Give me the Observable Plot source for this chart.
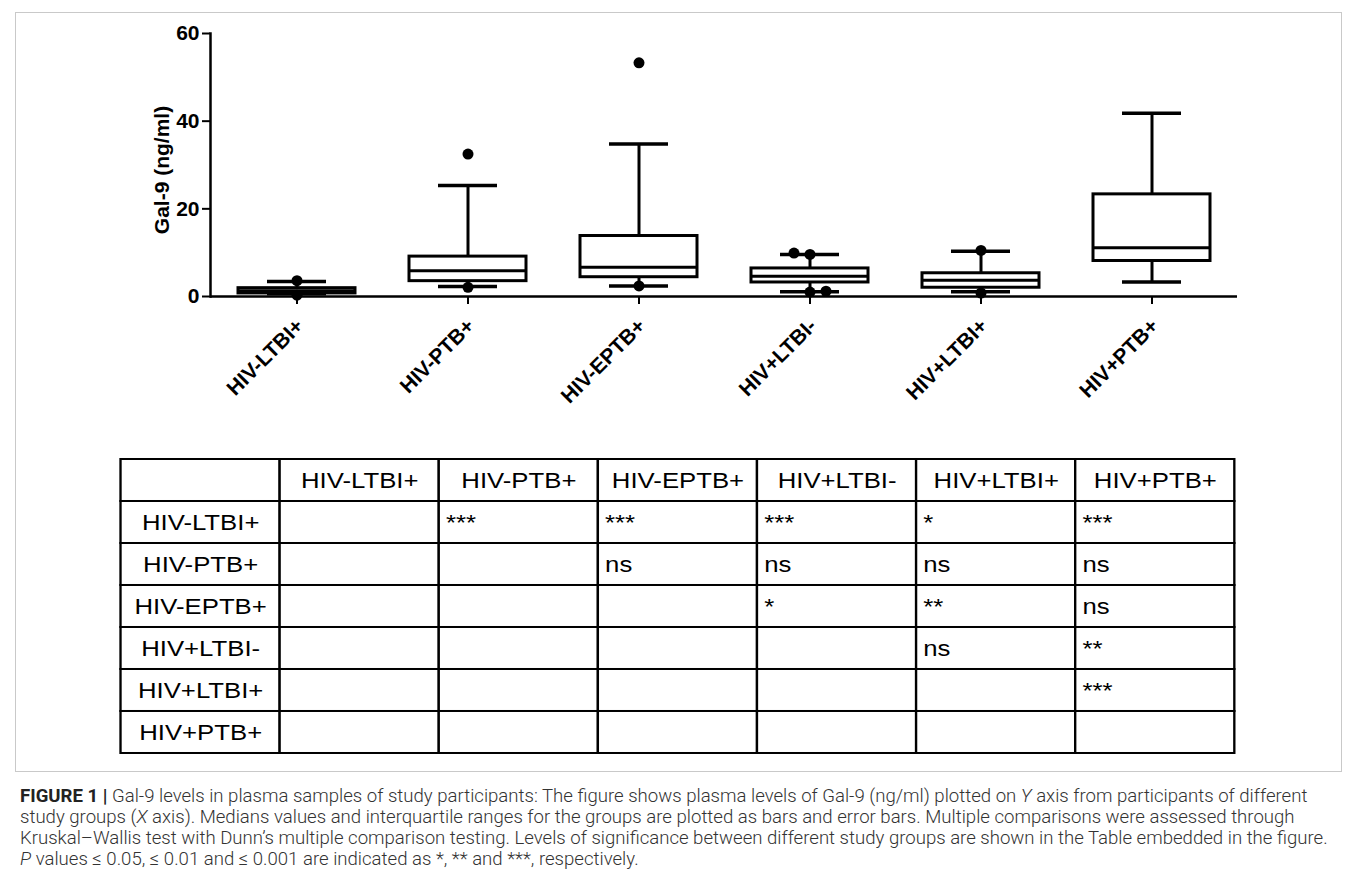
<!DOCTYPE html>
<html><head><meta charset="utf-8">
<script src="https://cdn.jsdelivr.net/npm/d3@7"></script>
<script src="https://cdn.jsdelivr.net/npm/@observablehq/plot@0.6"></script>
<style>
body{margin:0;background:#fff;width:1357px;height:891px;position:relative;overflow:hidden}
#fig{position:absolute;left:15px;top:12px;width:1327px;height:760px;border:1px solid #c9c9c9;box-sizing:border-box}
#chart{position:absolute;left:0;top:0}
#table{position:absolute;left:0;top:440px}
#table svg{transform-origin:0 0}
#caption{position:absolute;left:20px;top:786px;font-family:Roboto,sans-serif;font-weight:300;font-size:16.5px;line-height:21px;color:#333;white-space:nowrap}
#caption b{color:#222;font-weight:700}
</style></head>
<body>
<div id="fig"></div>
<div id="chart"></div>
<div id="table"></div>
<div id="caption">
<div><b>FIGURE 1 |</b> Gal-9 levels in plasma samples of study participants: The figure shows plasma levels of Gal-9 (ng/ml) plotted on <i>Y</i> axis from participants of different</div>
<div>study groups (<i>X</i> axis). Medians values and interquartile ranges for the groups are plotted as bars and error bars. Multiple comparisons were assessed through</div>
<div>Kruskal–Wallis test with Dunn’s multiple comparison testing. Levels of significance between different study groups are shown in the Table embedded in the figure.</div>
<div><i>P</i> values ≤ 0.05, ≤ 0.01 and ≤ 0.001 are indicated as *, ** and ***, respectively.</div>
</div>
<script>
// ---- data ----
const groups = ["HIV-LTBI+", "HIV-PTB+", "HIV-EPTB+", "HIV+LTBI-", "HIV+LTBI+", "HIV+PTB+"];
const whiskerLow  = [0.6, 2.3, 2.4, 1.1, 1.1, 3.3];
const q1          = [0.7, 3.5, 4.4, 3.2, 2.0, 8.1];
const median      = [1.3, 5.9, 6.7, 4.6, 3.7, 11.1];
const q3          = [1.9, 9.1, 13.8, 6.4, 5.3, 23.3];
const whiskerHigh = [3.4, 25.3, 34.8, 9.6, 10.3, 41.8];
const outlierGroups = ["HIV-LTBI+", "HIV-LTBI+", "HIV-PTB+", "HIV-PTB+", "HIV-EPTB+", "HIV-EPTB+",
                       "HIV+LTBI-", "HIV+LTBI-", "HIV+LTBI-", "HIV+LTBI-", "HIV+LTBI+", "HIV+LTBI+"];
const outlierValues = [3.6, 0.3, 32.5, 2.1, 53.3, 2.4, 9.9, 9.6, 1.2, 1.0, 10.5, 0.8];
const yTicks = [0, 20, 40, 60];
const yLabel = "Gal-9 (ng/ml)";
// significance table: rows x columns (both = groups)
const significance = [
  ["", "***", "***", "***", "*", "***"],
  ["", "", "ns", "ns", "ns", "ns"],
  ["", "", "", "*", "**", "ns"],
  ["", "", "", "", "ns", "**"],
  ["", "", "", "", "", "***"],
  ["", "", "", "", "", ""]
];

// ---- chart ----
const boxes = groups.map((g, i) => ({group: g, lo: whiskerLow[i], q1: q1[i], med: median[i], q3: q3[i], hi: whiskerHigh[i]}));
const pts = outlierGroups.map((g, i) => ({group: g, value: outlierValues[i], slot: 0}));
const dotR = 5.5;
const plotH = 263, yMax = 60;
const collide = 2 * dotR * yMax / plotH;
for (const g of groups) {
  const gp = pts.filter(p => p.group === g);
  const b = boxes.find(d => d.group === g);
  for (const a of gp) for (const c of gp)
    if (a !== c && a.value > c.value && a.value - c.value < collide) a.slot = a.value > b.q3 ? -1 : 1;
}
const dotMarks = [-1, 0, 1].map(s => Plot.dot(pts.filter(p => p.slot === s),
  {x: "group", y: "value", r: dotR, fill: "black", dx: s * 16}));

const chart = Plot.plot({
  width: 1357, height: 440,
  marginLeft: 210, marginRight: 120, marginTop: 33, marginBottom: 144,
  style: {fontFamily: "'Liberation Sans', Arial, sans-serif", background: "transparent", color: "black"},
  x: {domain: groups, paddingInner: 0.316, paddingOuter: 0.158, label: null},
  y: {domain: [0, yMax], label: null},
  marks: [
    Plot.ruleX(boxes, {x: "group", y1: "q3", y2: "hi", strokeWidth: 3}),
    Plot.ruleX(boxes, {x: "group", y1: "lo", y2: "q1", strokeWidth: 3}),
    Plot.tickY(boxes, {x: "group", y: "hi", insetLeft: 29, insetRight: 29, strokeWidth: 3.5}),
    Plot.tickY(boxes, {x: "group", y: "lo", insetLeft: 29, insetRight: 29, strokeWidth: 3.5}),
    Plot.barY(boxes, {x: "group", y1: "q1", y2: "q3", fill: "white", stroke: "black", strokeWidth: 3}),
    Plot.tickY(boxes, {x: "group", y: "med", strokeWidth: 3}),
    ...dotMarks,
    Plot.axisY({ticks: yTicks, tickSize: 8, tickPadding: 3, fontSize: 21, fontWeight: "bold", strokeWidth: 2, label: null}),
    // tick marks only
    Plot.axisX({tickSize: 8, tickFormat: () => "", strokeWidth: 2, label: null}),
    // rotated labels only
    Plot.axisX({tickSize: 0, tickRotate: -45, tickPadding: 26, dx: 3, fontSize: 21, fontWeight: "bold", label: null}),
    Plot.ruleY([0], {strokeWidth: 2.5}),
    Plot.frame({anchor: "left", strokeWidth: 2.5}),
    Plot.text([yLabel], {frameAnchor: "left", textAnchor: "middle", rotate: -90, dx: -48, dy: 5, fontSize: 21, fontWeight: "bold", fill: "black"})
  ]
});
document.getElementById("chart").append(chart);

// ---- table ----
const stretch = 1.17;
const tLeft = 118, tRight = 1237, rowH = 42.2, tTop = 18;
const head = "head";
const axisCats = [head, ...groups];
const cells = d3.cross(axisCats, axisCats).map(([c, r]) => ({col: c, row: r}));
const sigData = [];
groups.forEach((r, i) => groups.forEach((c, j) => {
  if (significance[i][j]) sigData.push({row: r, col: c, text: significance[i][j]});
}));
const frameW = (tRight - tLeft) / stretch;
const colW = frameW / axisCats.length;
const table = Plot.plot({
  width: tLeft / stretch + frameW + 10, height: tTop + rowH * axisCats.length + 4,
  marginLeft: tLeft / stretch, marginRight: 10, marginTop: tTop, marginBottom: 4,
  style: {fontFamily: "'Liberation Sans', Arial, sans-serif", background: "transparent", color: "black"},
  x: {domain: axisCats, padding: 0, axis: null},
  y: {domain: axisCats, padding: 0, axis: null},
  marks: [
    Plot.cell(cells, {x: "col", y: "row", fill: "white", stroke: "black", strokeWidth: 2}),
    Plot.text(groups, {x: d => d, y: () => head, fontSize: 22, fill: "black"}),
    Plot.text(groups, {x: () => head, y: d => d, fontSize: 22, fill: "black"}),
    Plot.text(sigData, {x: "col", y: "row", text: "text", textAnchor: "start", dx: -colW / 2 + 7 / stretch, fontSize: 22, fill: "black"})
  ]
});
table.style.transform = `scaleX(${stretch})`;
document.getElementById("table").append(table);

// ---- caption fit: widest line spans the reference width ----
const cap = document.getElementById("caption");
const capTarget = 1308;
const fs0 = parseFloat(getComputedStyle(cap).fontSize);
cap.style.fontSize = (fs0 * capTarget / cap.getBoundingClientRect().width) + "px";
</script>
</body></html>
